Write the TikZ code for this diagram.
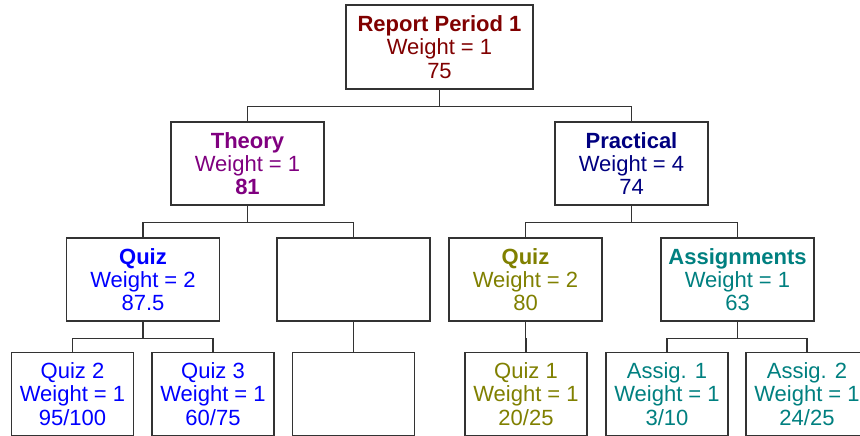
\documentclass[tikz,border=0pt]{standalone}
\usepackage{fontspec}
\setmainfont{Liberation Sans}
\usepackage{tikz}
\usetikzlibrary{positioning}
\definecolor{reportred}{RGB}{128,0,0}
\definecolor{theorypurple}{RGB}{128,0,128}
\definecolor{practicalnavy}{RGB}{0,0,128}
\definecolor{quizblue}{RGB}{0,0,255}
\definecolor{quizolive}{RGB}{128,128,0}
\definecolor{assignteal}{RGB}{0,128,128}
\tikzset{
	box/.style={draw=black!80, line width=1.3pt, fill=white, align=center, inner sep=0pt,
		font=\fontsize{22}{23.3}\selectfont, minimum height=83pt},
	wide/.style={box, minimum width=153pt},
	leaf/.style={box, minimum width=122pt},
	link/.style={draw=black!80, line width=1.3pt}
}
\begin{document}
\begin{tikzpicture}[x=1pt, y=-1pt]
			%%%%% START %%%%%
			\clip (0, 0) rectangle (860, 436);
			\useasboundingbox (0, 0) rectangle (860, 436);
			
			\node[box, minimum width=187pt, minimum height=84pt, text=reportred] (report) at (439.5, 47)
				{\textbf{Report Period 1}\\Weight = 1\\75};
			
			\node[wide, text=theorypurple] (theory) at (247.5, 163.5) {\textbf{Theory}\\Weight = 1\\\textbf{81}};
			\node[wide, text=practicalnavy] (practical) at (631.5, 163.5) {\textbf{Practical}\\Weight = 4\\74};
			
			\node[wide, text=quizblue] (tquiz) at (143, 279.5) {\textbf{Quiz}\\Weight = 2\\87.5};
			\node[wide] (tempty) at (353.5, 279.5) {};
			\node[wide, text=quizolive] (pquiz) at (525.5, 279.5) {\textbf{Quiz}\\Weight = 2\\80};
			\node[wide, text=assignteal] (assign) at (737.5, 279.5) {\textbf{Assignments}\\Weight = 1\\63};
			
			\node[leaf, text=quizblue] (quiztwo) at (72.5, 394) {Quiz 2\\Weight = 1\\95/100};
			\node[leaf, text=quizblue] (quizthree) at (213, 394) {Quiz 3\\Weight = 1\\60/75};
			\node[leaf] (bempty) at (353.5, 394) {};
			\node[leaf, text=quizolive] (quizone) at (526, 394) {Quiz 1\\Weight = 1\\20/25};
			\node[leaf, text=assignteal] (assigone) at (667, 394) {Assig. 1\\Weight = 1\\3/10};
			\node[leaf, text=assignteal] (assigtwo) at (807, 394) {Assig. 2\\Weight = 1\\24/25};
			
			\draw[link] (report.south) -- ++(0, 17) -| (theory.north);
			\draw[link] (report.south) -- ++(0, 17) -| (practical.north);
			
			\draw[link] (theory.south) -- ++(0, 17) -| (tquiz.north);
			\draw[link] (theory.south) -- ++(0, 17) -| (tempty.north);
			\draw[link] (practical.south) -- ++(0, 17) -| (pquiz.north);
			\draw[link] (practical.south) -- ++(0, 17) -| (assign.north);
			
			\draw[link] (tquiz.south) -- ++(0, 17) -| (quiztwo.north);
			\draw[link] (tquiz.south) -- ++(0, 17) -| (quizthree.north);
			\draw[link] (tempty.south) -- (bempty.north);
			\draw[link] (pquiz.south) -- ++(0, 17) -| (quizone.north);
			\draw[link] (assign.south) -- ++(0, 17) -| (assigone.north);
			\draw[link] (assign.south) -- ++(0, 17) -| (assigtwo.north);
			%%%%% END %%%%%
\end{tikzpicture}
\end{document}
